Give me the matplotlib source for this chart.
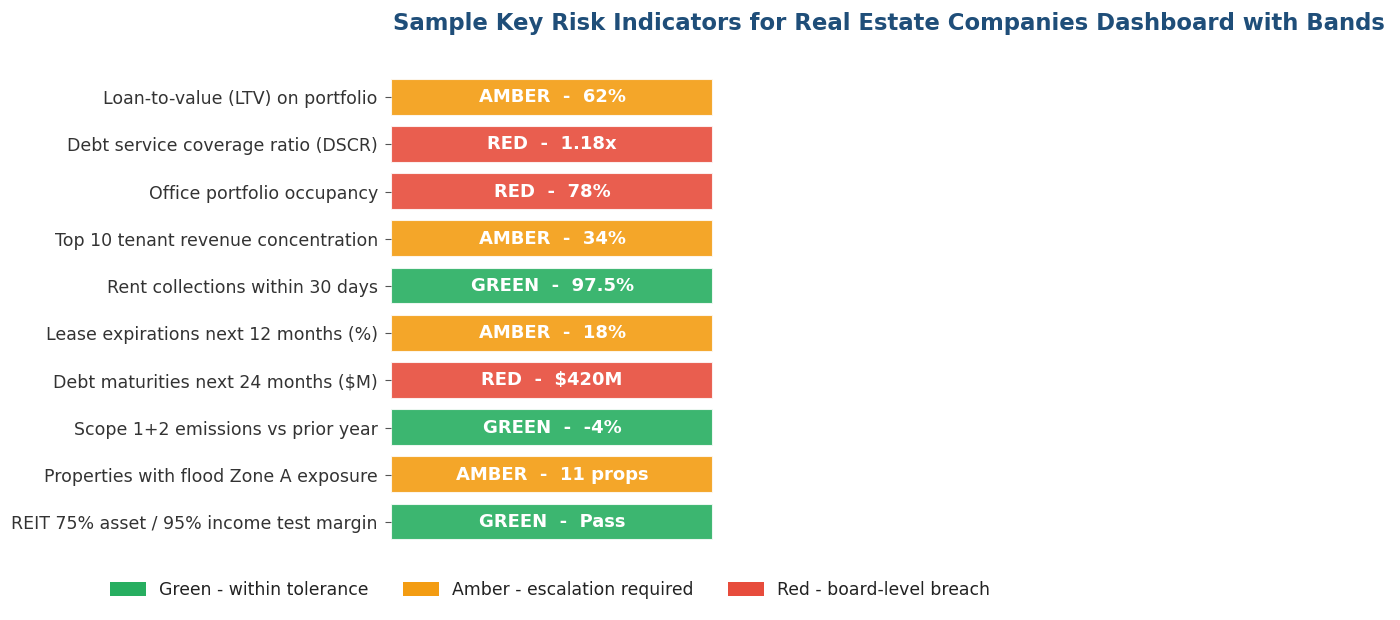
import matplotlib
matplotlib.use("Agg")
import matplotlib.pyplot as plt
from matplotlib.patches import Patch

plt.rcParams["font.family"] = ["DejaVu Sans"]

indicators = [
    "Loan-to-value (LTV) on portfolio",
    "Debt service coverage ratio (DSCR)",
    "Office portfolio occupancy",
    "Top 10 tenant revenue concentration",
    "Rent collections within 30 days",
    "Lease expirations next 12 months (%)",
    "Debt maturities next 24 months ($M)",
    "Scope 1+2 emissions vs prior year",
    "Properties with flood Zone A exposure",
    "REIT 75% asset / 95% income test margin",
]
bands = ["AMBER", "RED", "RED", "AMBER", "GREEN", "AMBER", "RED", "GREEN", "AMBER", "GREEN"]
values = ["62%", "1.18x", "78%", "34%", "97.5%", "18%", "$420M", "-4%", "11 props", "Pass"]

band_colors = {"GREEN": "#27AE60", "AMBER": "#F39C12", "RED": "#E74C3C"}
legend_labels = ["Green - within tolerance", "Amber - escalation required", "Red - board-level breach"]

fig = plt.figure(figsize=(14, 6.2), dpi=100)
ax = fig.add_axes([0.2793, 0.1124, 0.711, 0.7766])

ypos = list(range(len(indicators)))
ax.barh(ypos, [1] * len(indicators), height=0.78, left=0,
        color=[band_colors[b] for b in bands], alpha=0.9,
        edgecolor="white", linewidth=1.5)
for y, b, v in zip(ypos, bands, values):
    ax.text(0.5, y, f"{b}  -  {v}", ha="center", va="center",
            color="white", fontsize=13, fontweight="bold")

ax.set_yticks(ypos)
ax.set_yticklabels(indicators, fontsize=12.5, color="#333333")
ax.tick_params(axis="y", colors="#555555", labelcolor="#333333", length=4.5, pad=5)
ax.set_xticks([])
ax.set_xlim(0, 3.09)
ax.set_ylim(9.6, -0.6)
for s in ax.spines.values():
    s.set_visible(False)

ax.set_title("Sample Key Risk Indicators for Real Estate Companies Dashboard with Bands",
             fontsize=16.4, fontweight="bold", color="#1F4E79", pad=28)

handles = [Patch(facecolor=band_colors[k], edgecolor="none") for k in ["GREEN", "AMBER", "RED"]]
fig.legend(handles, legend_labels, loc="center", bbox_to_anchor=(550 / 1400, 1 - 590 / 620),
           ncol=3, frameon=False, fontsize=12.4, handlelength=2.1, handleheight=0.8,
           handletextpad=0.75, columnspacing=2.0, labelcolor="#222222")

fig.savefig("out.png", dpi=100)
